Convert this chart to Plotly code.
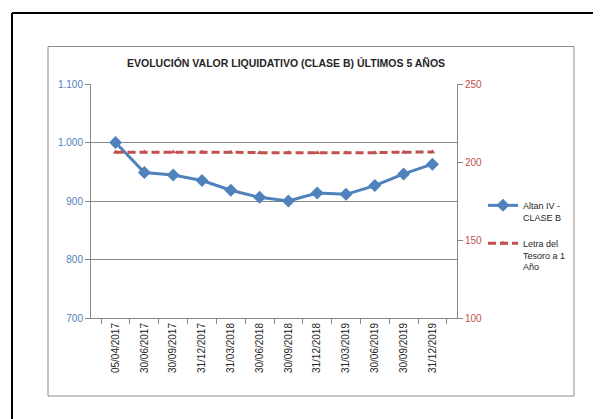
import plotly.graph_objects as go

dates = ["05/04/2017", "30/06/2017", "30/09/2017", "31/12/2017", "31/03/2018", "30/06/2018",
         "30/09/2018", "31/12/2018", "31/03/2019", "30/06/2019", "30/09/2019", "31/12/2019"]
altan = [1000, 948.6, 944.6, 935.0, 918.3, 906.3, 900.0, 913.7, 911.4, 926.3, 946.3, 962.9]
letra = [206.3, 206.4, 206.4, 206.4, 206.3, 206.0, 205.9, 205.9, 206.0, 206.0, 206.3, 206.4]

W, H = 601, 419
L, R, T, B = 83, 449, 76, 310

def px(x):
    return (x - L) / (R - L)

def py(y):
    return (B - y) / (B - T)

BLUE = "#4F81BD"
RED = "#C0504D"
FONT = "Liberation Sans"

fig = go.Figure()
fig.add_trace(go.Scatter(
    x=dates, y=altan, name="Altan IV -<br>CLASE B", mode="lines+markers",
    line=dict(color=BLUE, width=3),
    marker=dict(symbol="diamond", size=10, color=BLUE),
    yaxis="y", legend="legend"))
fig.add_trace(go.Scatter(
    x=dates, y=letra, name="Letra del<br>Tesoro a 1<br>Año", mode="lines+markers",
    line=dict(color=RED, width=3, dash="8px,4px"),
    marker=dict(symbol="triangle-up", size=5, color=RED),
    yaxis="y2", legend="legend2"))

legend_common = dict(xanchor="left", yanchor="top", valign="top",
                     font=dict(size=9, color="#262626", family=FONT),
                     bgcolor="rgba(0,0,0,0)", itemwidth=30)

fig.update_layout(
    width=W, height=H,
    margin=dict(l=L, r=W - R, t=T, b=H - B),
    paper_bgcolor="white", plot_bgcolor="white",
    font=dict(family=FONT, size=9, color="#404040"),
    showlegend=True,
    legend=dict(x=px(475), y=py(185), **legend_common),
    legend2=dict(x=px(475), y=py(223), **legend_common),
    xaxis=dict(type="category", showline=True, linecolor="#868686", linewidth=1,
               ticks="outside", ticklen=5, tickcolor="#868686", tickson="boundaries",
               tickangle=-90, showgrid=False, zeroline=False,
               tickfont=dict(size=10, color="#262626")),
    yaxis=dict(range=[700, 1100], tickvals=[700, 800, 900, 1000, 1100],
               ticktext=["700", "800", "900", "1.000", "1.100"],
               showline=True, linecolor="#868686", ticks="outside", ticklen=5,
               tickcolor="#868686", showgrid=True, gridcolor="#868686", gridwidth=1,
               zeroline=False, tickfont=dict(size=10, color=BLUE)),
    yaxis2=dict(range=[100, 250], tickvals=[100, 150, 200, 250], overlaying="y",
                side="right", showline=True, linecolor="#868686", ticks="outside",
                ticklen=5, tickcolor="#868686", showgrid=False, zeroline=False,
                tickfont=dict(size=10, color=RED)),
    shapes=[
        dict(type="line", xref="paper", yref="paper", x0=px(4), x1=px(4), y0=py(5), y1=py(425),
             line=dict(color="black", width=2)),
        dict(type="line", xref="paper", yref="paper", x0=px(4), x1=px(610), y0=py(5), y1=py(5),
             line=dict(color="black", width=2)),
        dict(type="rect", xref="paper", yref="paper", x0=px(40), x1=px(566), y0=py(38.5), y1=py(388),
             line=dict(color="#8c8c8c", width=1)),
    ],
    annotations=[
        dict(text="<b>EVOLUCIÓN VALOR LIQUIDATIVO (CLASE B) ÚLTIMOS 5 AÑOS</b>",
             xref="paper", yref="paper", x=px(278), y=py(55), xanchor="center", yanchor="middle",
             showarrow=False, font=dict(size=10.5, color="#262626", family=FONT)),
    ],
)

fig.write_html("out.html")
